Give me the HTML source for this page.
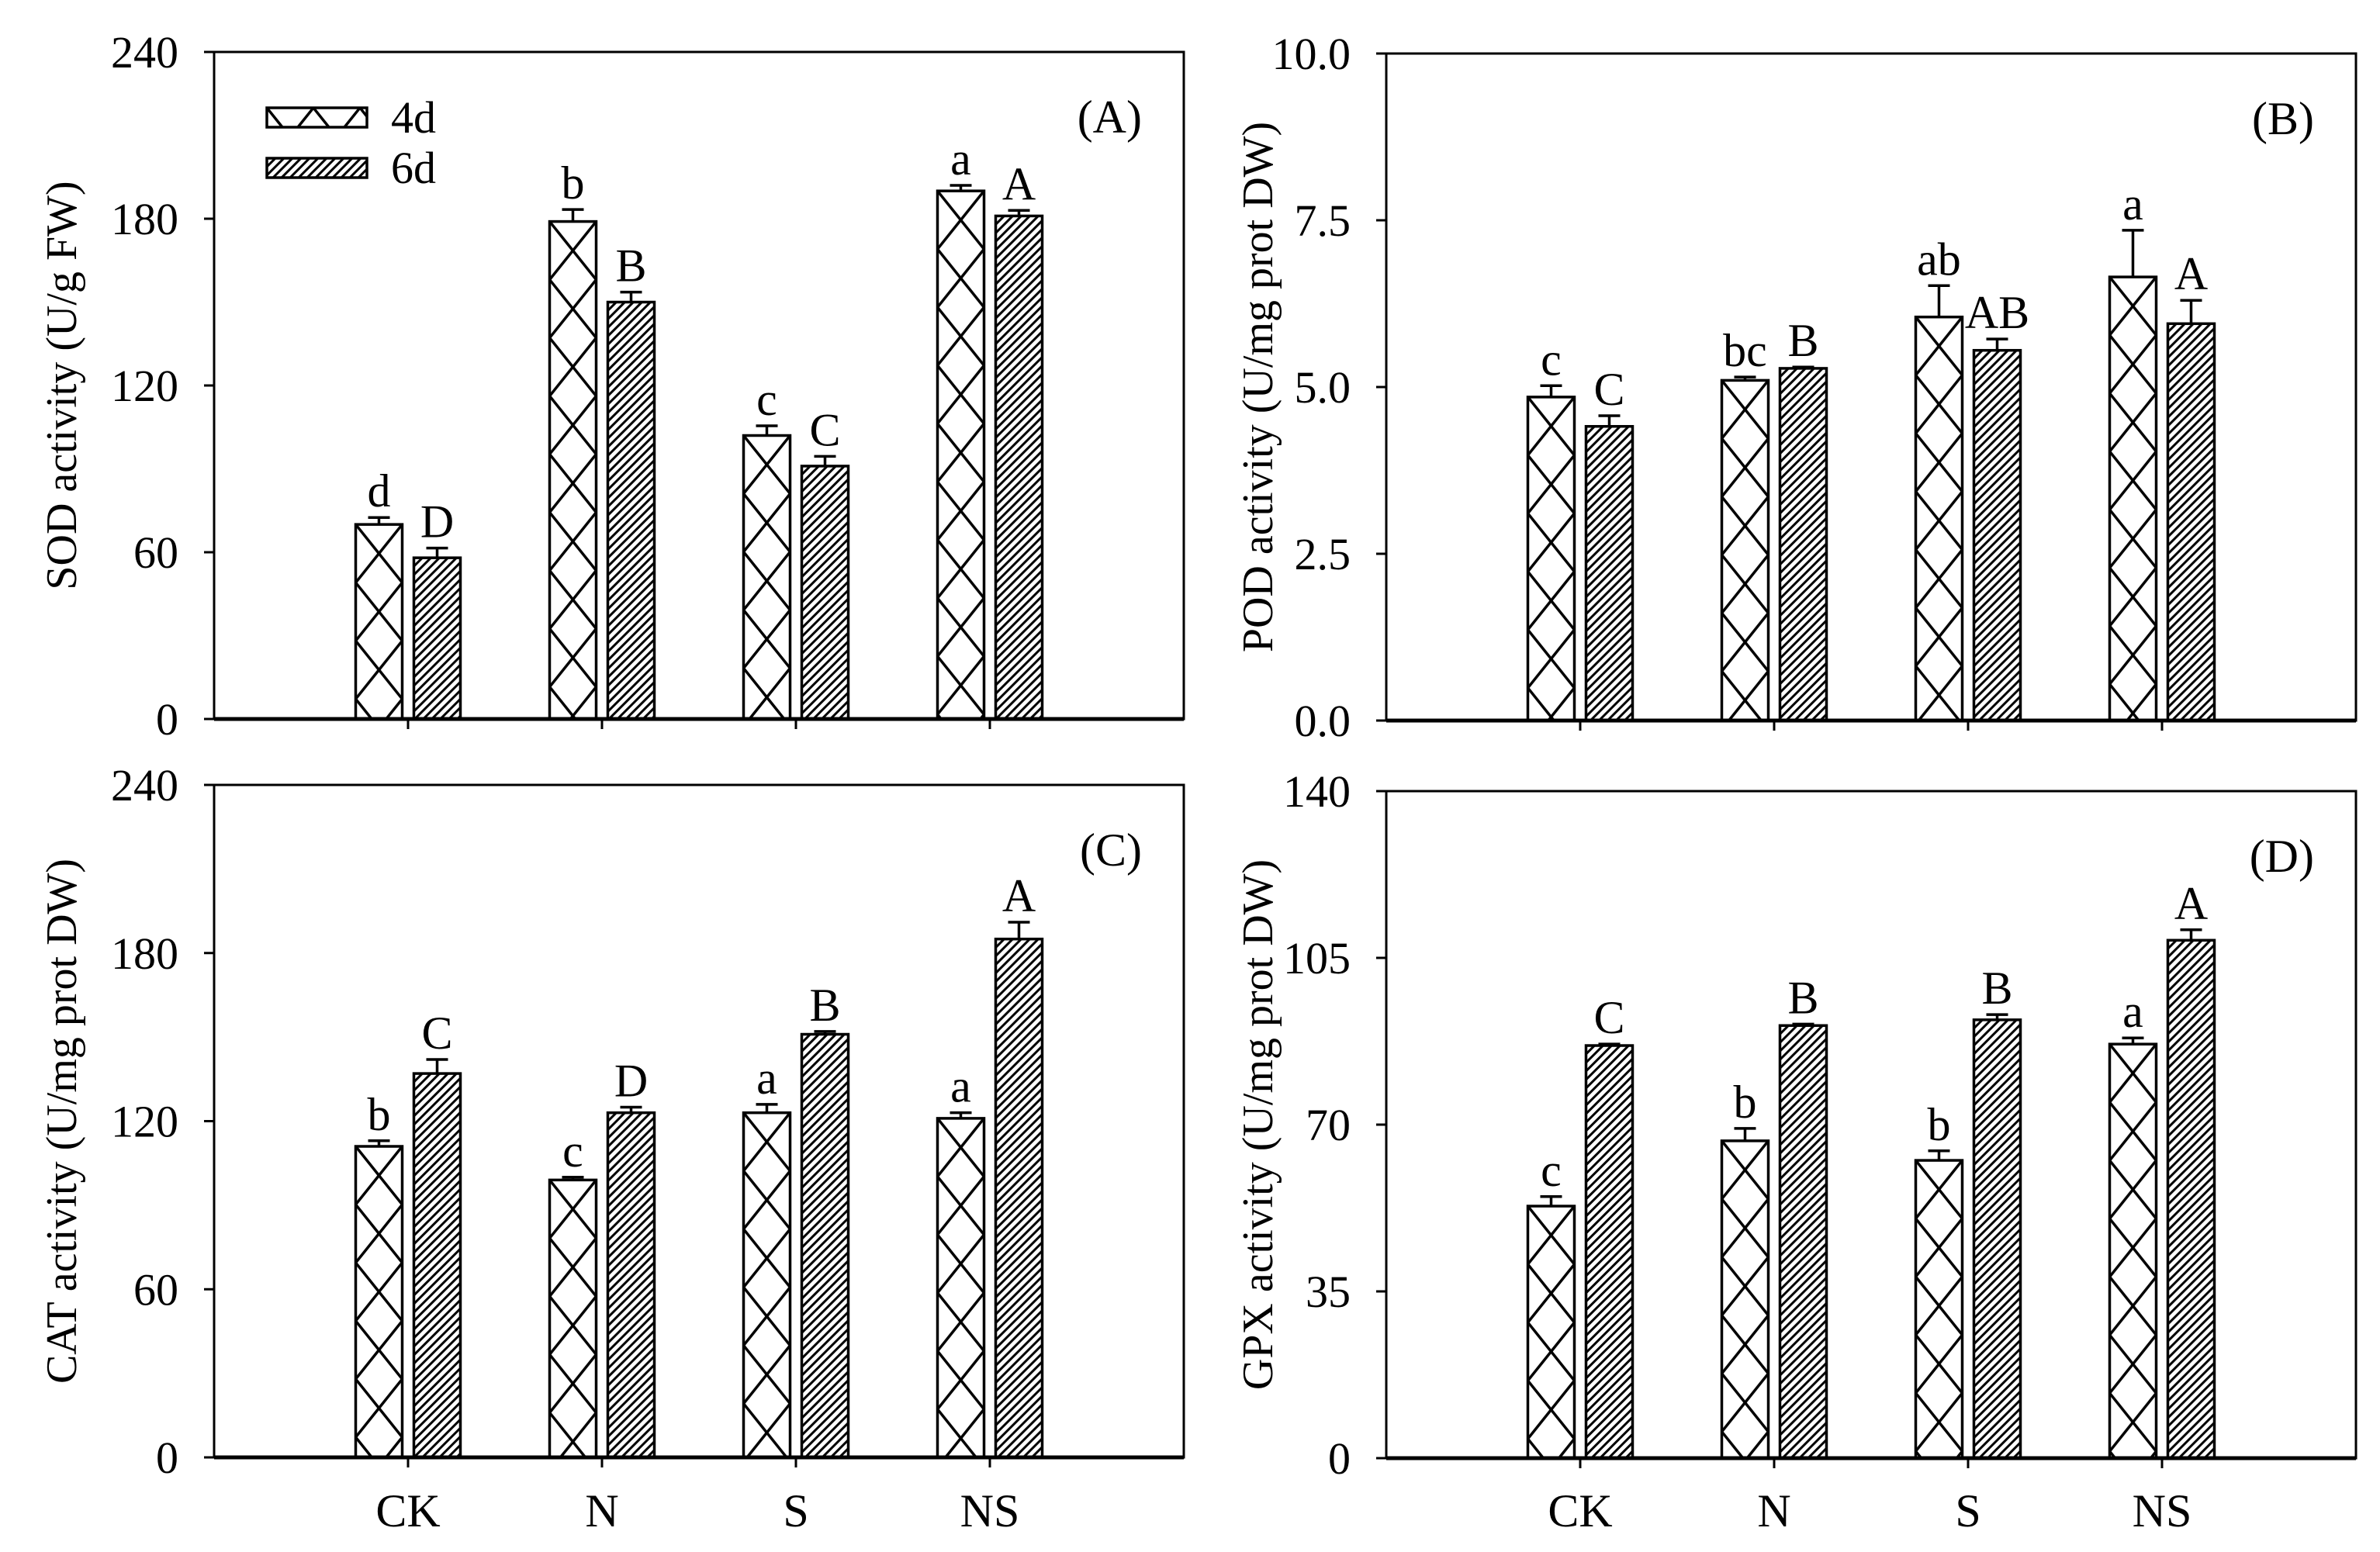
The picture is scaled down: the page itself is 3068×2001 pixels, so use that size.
<!DOCTYPE html>
<html><head><meta charset="utf-8"><style>
html,body{margin:0;padding:0;background:#fff;}
svg text{font-family:"Liberation Serif",serif;fill:#000;}
</style></head><body>
<svg id="chart" width="3068" height="1996" viewBox="0 0 3068 1996" xmlns="http://www.w3.org/2000/svg">
<rect width="3068" height="1996" fill="#fff"/>
<defs id="defs"></defs>
</svg>
<script>
const categories = ["CK","N","S","NS"];
const seriesNames = ["4d","6d"];
const sod4 = [70,179,102,190], sod4e = [2.5,4.3,3.5,2];
const sod6 = [58,150,91,181], sod6e = [3.5,3.6,3.5,2];
const sod4L = ["d","b","c","a"], sod6L = ["D","B","C","A"];
const pod4 = [4.85,5.1,6.05,6.65], pod4e = [0.17,0.05,0.47,0.7];
const pod6 = [4.41,5.28,5.55,5.95], pod6e = [0.16,0.02,0.17,0.35];
const pod4L = ["c","bc","ab","a"], pod6L = ["C","B","AB","A"];
const cat4 = [111,99,123,121], cat4e = [2,1,3,2];
const cat6 = [137,123,151,185], cat6e = [5,2,1,6];
const cat4L = ["b","c","a","a"], cat6L = ["C","D","B","A"];
const gpx4 = [52.9,66.6,62.5,86.9], gpx4e = [2,2.6,2,1.3];
const gpx6 = [86.6,90.8,92,108.7], gpx6e = [0.3,0.3,1.1,2.2];
const gpx4L = ["c","b","b","a"], gpx6L = ["C","B","B","A"];
const sodTicks = ["0","60","120","180","240"];
const podTicks = ["0.0","2.5","5.0","7.5","10.0"];
const catTicks = ["0","60","120","180","240"];
const gpxTicks = ["0","35","70","105","140"];

const NS='http://www.w3.org/2000/svg';
const svg=document.getElementById('chart');
const defs=document.getElementById('defs');
let pid=0;
function mk(tag,attrs,parent){const e=document.createElementNS(NS,tag);for(const k in attrs)e.setAttribute(k,attrs[k]);(parent||svg).appendChild(e);return e;}

function pattern(kind,x,y){
  const id='p'+(pid++);
  if(kind===0){
    const p=mk('pattern',{id:id,patternUnits:'userSpaceOnUse',x:x,y:y,width:60,height:75},defs);
    mk('rect',{width:60,height:75,fill:'#fff'},p);
    mk('path',{d:'M0,0L60,75M60,0L0,75M-30,-37.5L30,37.5M30,37.5L90,112.5M90,-37.5L30,37.5M30,37.5L-30,112.5',stroke:'#000','stroke-width':3.5,fill:'none'},p);
  } else {
    const p=mk('pattern',{id:id,patternUnits:'userSpaceOnUse',x:x,y:y,width:11,height:11},defs);
    mk('rect',{width:11,height:11,fill:'#fff'},p);
    mk('path',{d:'M-2,13L13,-2M-5,5L5,-5M6,16L16,6',stroke:'#000','stroke-width':3,fill:'none'},p);
  }
  return id;
}

function panel(o){
  const g=mk('g',{});
  
  
  const L=o.x0,R=o.x0+1250,T=o.top,B=o.bottom;
  const max=o.max;
  const yS=v=>B-(v/max)*(B-T);
  const xS=i=>L+(i+1)*250;
  // frame
  const fr=mk('rect',{x:L,y:T,width:R-L,height:B-T,fill:'none',stroke:'#000','stroke-width':3},g);
  
  
  // y ticks
  o.ticks.forEach((t,i)=>{
    const v=max*i/(o.ticks.length-1);
    const y=yS(v);
    mk('line',{x1:L-13,x2:L,y1:y,y2:y,stroke:'#000','stroke-width':3},g);
    const tx=mk('text',{x:L-46,y:y+20,'text-anchor':'end','font-size':58},g);
    tx.textContent=t;
    
    
  });
  // bars
  const sets=[[o.s4,o.e4,o.l4,-37.5,0],[o.s6,o.e6,o.l6,37.5,1]];
  sets.forEach(([vals,errs,labs,off,kind])=>{
    vals.forEach((v,i)=>{
      const cx=xS(i)+off, bx=cx-30, y=yS(v);
      const id=pattern(kind,bx,y);
      const r=mk('rect',{x:bx,y:y,width:60,height:B-y,fill:'url(#'+id+')',stroke:'#000','stroke-width':3.5},g);
      
      
      const ey=yS(v+errs[i]);
      mk('line',{x1:cx,x2:cx,y1:y,y2:ey,stroke:'#000','stroke-width':3.5},g);
      mk('line',{x1:cx-14,x2:cx+14,y1:ey,y2:ey,stroke:'#000','stroke-width':3.5},g);
      const lt=mk('text',{x:cx,y:ey-14,'text-anchor':'middle','font-size':60},g);
      lt.textContent=labs[i];
      
      
    });
  });
  // x axis ticks
  categories.forEach((c,i)=>{
    mk('line',{x1:xS(i),x2:xS(i),y1:B,y2:B+13,stroke:'#000','stroke-width':3},g);
    if(o.xlabels){
      const t=mk('text',{x:xS(i),y:1968,'text-anchor':'middle','font-size':60},g);
      t.textContent=c;
      
      
    }
  });
  mk('line',{x1:L,x2:R,y1:B,y2:B,stroke:'#000','stroke-width':5},g);
  // panel label
  const pl=mk('text',{x:R-54,y:T+104,'text-anchor':'end','font-size':60},g);
  pl.textContent=o.label;
  
  
  // y title
  const cy=(T+B)/2;
  const yt=mk('text',{x:o.titleX,y:cy,'text-anchor':'middle','font-size':56,transform:'rotate(-90 '+o.titleX+' '+cy+')'},g);
  yt.textContent=o.title;
  
  
}

panel({name:'panel-a-sod',x0:276,top:67,bottom:927,max:240,ticks:sodTicks,s4:sod4,e4:sod4e,l4:sod4L,s6:sod6,e6:sod6e,l6:sod6L,label:'(A)',title:'SOD activity (U/g FW)',titleX:98,xlabels:false});
panel({name:'panel-b-pod',x0:1787,top:69,bottom:929,max:10,ticks:podTicks,s4:pod4,e4:pod4e,l4:pod4L,s6:pod6,e6:pod6e,l6:pod6L,label:'(B)',title:'POD activity (U/mg prot DW)',titleX:1640,xlabels:false});
panel({name:'panel-c-cat',x0:276,top:1012,bottom:1879,max:240,ticks:catTicks,s4:cat4,e4:cat4e,l4:cat4L,s6:cat6,e6:cat6e,l6:cat6L,label:'(C)',title:'CAT activity (U/mg prot DW)',titleX:98,xlabels:true});
panel({name:'panel-d-gpx',x0:1787,top:1020,bottom:1880,max:140,ticks:gpxTicks,s4:gpx4,e4:gpx4e,l4:gpx4L,s6:gpx6,e6:gpx6e,l6:gpx6L,label:'(D)',title:'GPX activity (U/mg prot DW)',titleX:1640,xlabels:true});

// legend
const lg=mk('g',{});


seriesNames.forEach((s,k)=>{
  const y=139+k*65;
  const id=pattern(k,344,y);
  const r=mk('rect',{x:344,y:y,width:129,height:25,fill:'url(#'+id+')',stroke:'#000','stroke-width':3.5},lg);
  
  
  const t=mk('text',{x:504,y:y+32,'font-size':58},lg);
  t.textContent=s;
  
  
});
</script>
</body></html>
